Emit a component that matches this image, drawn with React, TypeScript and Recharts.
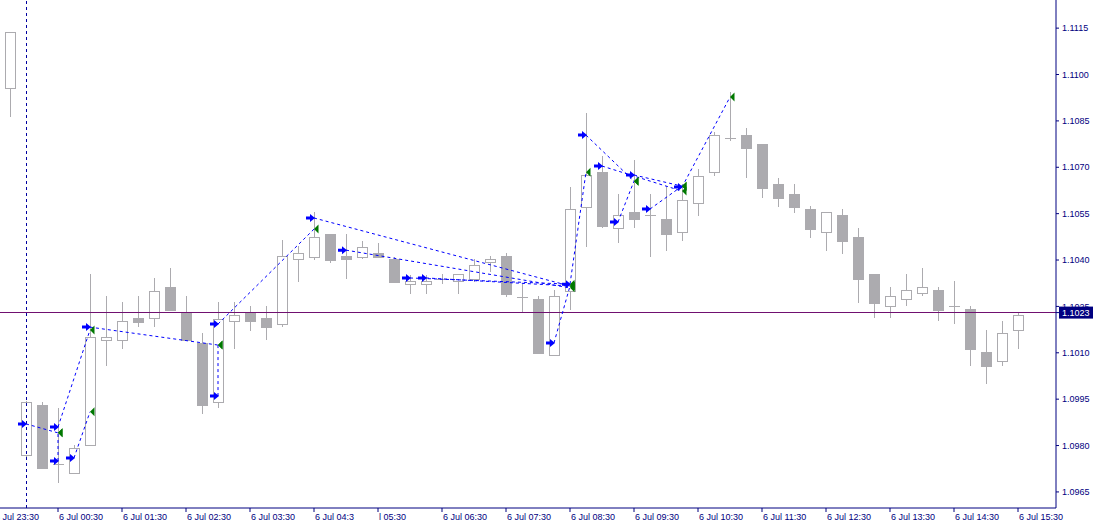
import { Bar, ComposedChart, ReferenceDot, ReferenceLine, XAxis, YAxis } from 'recharts';

// 15 minute bars, first slot is the (empty) 23:30 column used by the first time label
const times = [
  '23:30', '23:45',
  '00:00', '00:15', '00:30', '00:45', '01:00', '01:15', '01:30', '01:45',
  '02:00', '02:15', '02:30', '02:45', '03:00', '03:15', '03:30', '03:45',
  '04:00', '04:15', '04:30', '04:45', '05:00', '05:15', '05:30', '05:45',
  '06:00', '06:15', '06:30', '06:45', '07:00', '07:15', '07:30', '07:45',
  '08:00', '08:15', '08:30', '08:45', '09:00', '09:15', '09:30', '09:45',
  '10:00', '10:15', '10:30', '10:45', '11:00', '11:15', '11:30', '11:45',
  '12:00', '12:15', '12:30', '12:45', '13:00', '13:15', '13:30', '13:45',
  '14:00', '14:15', '14:30', '14:45', '15:00', '15:15', '15:30',
];

// OHLC for 23:45 .. 15:30
const opens = [
  1.10956, 1.0977, 1.09931, 1.09741, 1.09711, 1.09802, 1.10141, 1.10141, 1.10212, 1.10212,
  1.10313, 1.10232, 1.10132, 1.09941, 1.10203, 1.10232, 1.10212, 1.10193, 1.10403, 1.1041,
  1.10484, 1.10413, 1.1041, 1.10423, 1.10403, 1.10322, 1.10322, 1.10339, 1.10332, 1.10339,
  1.10394, 1.10413, 1.10281, 1.10274, 1.10093, 1.103, 1.10571, 1.10684, 1.10503, 1.10555,
  1.10546, 1.10533, 1.1049, 1.10584, 1.10684, 1.10795, 1.10804, 1.10775, 1.10646, 1.10613,
  1.10565, 1.1049, 1.10545, 1.10474, 1.10355, 1.10251, 1.10274, 1.10293, 1.10303, 1.10252,
  1.10242, 1.10103, 1.10073, 1.10174,
];
const highs = [
  1.11137, 1.09944, 1.09941, 1.09921, 1.09802, 1.10355, 1.10284, 1.10264, 1.10284, 1.10342,
  1.10374, 1.10284, 1.10164, 1.10264, 1.10264, 1.10251, 1.10251, 1.10465, 1.10445, 1.10555,
  1.10484, 1.10484, 1.10461, 1.10455, 1.1041, 1.10351, 1.10351, 1.10355, 1.10355, 1.10403,
  1.10413, 1.10423, 1.10322, 1.10284, 1.10303, 1.10636, 1.10875, 1.10736, 1.10613, 1.10723,
  1.10613, 1.10639, 1.10646, 1.10694, 1.10814, 1.10943, 1.10827, 1.10775, 1.10665, 1.10646,
  1.10574, 1.10555, 1.10565, 1.10503, 1.10355, 1.10313, 1.10355, 1.10374, 1.10313, 1.10332,
  1.10251, 1.10174, 1.10203, 1.10232,
];
const lows = [
  1.10862, 1.09763, 1.09727, 1.09679, 1.09711, 1.09802, 1.10057, 1.10112, 1.10183, 1.10183,
  1.10238, 1.10141, 1.09902, 1.09921, 1.10112, 1.1017, 1.10141, 1.10183, 1.10329, 1.104,
  1.1039, 1.10339, 1.10403, 1.1041, 1.10329, 1.1029, 1.1029, 1.10322, 1.1029, 1.10329,
  1.10361, 1.1028, 1.10229, 1.10099, 1.1009, 1.10238, 1.10442, 1.10503, 1.10455, 1.10503,
  1.1041, 1.10429, 1.10461, 1.10542, 1.10672, 1.10785, 1.10665, 1.106, 1.10571, 1.10552,
  1.10471, 1.10429, 1.10419, 1.10261, 1.10212, 1.10212, 1.10251, 1.10284, 1.10203, 1.10193,
  1.10057, 1.09999, 1.10057, 1.10112,
];
const closes = [
  1.11137, 1.09941, 1.09727, 1.09739, 1.09792, 1.10151, 1.10151, 1.10203, 1.102, 1.103,
  1.10238, 1.10141, 1.09931, 1.10209, 1.10222, 1.10203, 1.10183, 1.10413, 1.10423, 1.10474,
  1.104, 1.10403, 1.10442, 1.1041, 1.10329, 1.10332, 1.10332, 1.10338, 1.10355, 1.10384,
  1.10403, 1.1029, 1.1028, 1.10099, 1.10284, 1.10565, 1.10675, 1.1051, 1.10545, 1.10533,
  1.10545, 1.10484, 1.10594, 1.10672, 1.10804, 1.10794, 1.10762, 1.10633, 1.106, 1.10571,
  1.105, 1.10555, 1.10461, 1.10339, 1.10261, 1.10284, 1.10303, 1.10313, 1.10238, 1.10251,
  1.10112, 1.10057, 1.10164, 1.10222,
];

const tickTimes = [
  '23:30', '00:30', '01:30', '02:30', '03:30', '04:30', '05:30', '06:30', '07:30',
  '08:30', '09:30', '10:30', '11:30', '12:30', '13:30', '14:30', '15:30',
];
const tickLabels = [
  '3 Jul 23:30', '6 Jul 00:30', '6 Jul 01:30', '6 Jul 02:30', '6 Jul 03:30', '6 Jul 04:3',
  'l 05:30', '6 Jul 06:30', '6 Jul 07:30', '6 Jul 08:30', '6 Jul 09:30', '6 Jul 10:30',
  '6 Jul 11:30', '6 Jul 12:30', '6 Jul 13:30', '6 Jul 14:30', '6 Jul 15:30',
];

const priceTicks = [
  1.0965, 1.098, 1.0995, 1.101, 1.1025, 1.104, 1.1055, 1.107, 1.1085, 1.11, 1.1115,
];
const bidPrice = 1.1023;

// trade history: open arrow -> close marker
const tradeOpenTime = [
  '00:00', '00:30', '00:30', '00:45', '01:00', '03:00', '03:00', '04:30', '05:00', '06:00',
  '06:15', '08:15', '08:30', '08:45', '09:00', '09:15', '09:30', '09:45', '10:15',
];
const tradeOpenPrice = [
  1.0987, 1.0975, 1.0986, 1.0976, 1.10183, 1.0996, 1.10193, 1.10536, 1.10432, 1.10342,
  1.10342, 1.10132, 1.10322, 1.10804, 1.10704, 1.10523, 1.10675, 1.10565, 1.10636,
];
const tradeCloseTime = [
  '00:30', '00:30', '01:00', '01:00', '03:00', '03:00', '04:30', '08:30', '08:30', '08:30',
  '08:30', '08:30', '08:45', '09:30', '10:15', '09:30', '10:15', '10:15', '11:00',
];
const tradeClosePrice = [
  1.09841, 1.09841, 1.10174, 1.09909, 1.10125, 1.10125, 1.105, 1.10316, 1.1031, 1.10322,
  1.10316, 1.10316, 1.10684, 1.10655, 1.10623, 1.10655, 1.10639, 1.10639, 1.10927,
];

const NAVY = '#000080';
const CANDLE = '#acabaf';
const FONT = "'Liberation Sans', Arial, sans-serif";

const rows = times.map((time, i) => {
  const k = i - 1;
  if (k < 0) return { time, open: null, high: null, low: null, close: null };
  return { time, open: opens[k], high: highs[k], low: lows[k], close: closes[k] };
});

function Candle(props: any) {
  const { x, y, width, height, payload } = props;
  if (payload == null || payload.high == null) return null;
  const top = Math.min(y, y + height);
  const h = Math.abs(height);
  const span = payload.high - payload.low;
  const py = (v: number) => (span === 0 ? top : top + ((payload.high - v) / span) * h);
  const cx = Math.round(x + width / 2);
  const yo = Math.round(py(payload.open));
  const yc = Math.round(py(payload.close));
  const bull = payload.close >= payload.open;
  const bodyTop = Math.min(yo, yc);
  const bodyH = Math.abs(yo - yc);
  return (
    <g shapeRendering="crispEdges">
      <line x1={cx + 0.5} x2={cx + 0.5} y1={Math.round(top)} y2={Math.round(top + h)} stroke={CANDLE} />
      {bodyH < 1 ? (
        <line x1={cx - 5} x2={cx + 6} y1={yo + 0.5} y2={yo + 0.5} stroke={CANDLE} />
      ) : (
        <rect
          x={cx - 4.5}
          y={bodyTop + 0.5}
          width={10}
          height={bodyH}
          fill={bull ? '#ffffff' : CANDLE}
          stroke={CANDLE}
        />
      )}
    </g>
  );
}

const OpenArrow = (props: any) => {
  const { cx, cy } = props;
  return (
    <path
      d={`M${cx - 8},${cy - 1.5} H${cx - 4} V${cy - 4} L${cx + 1},${cy} L${cx - 4},${cy + 4} V${cy + 1.5} H${cx - 8} Z`}
      fill="#0000ff"
    />
  );
};

const CloseMark = (props: any) => {
  const { cx, cy } = props;
  return <path d={`M${cx},${cy} L${cx + 4.5},${cy - 4.5} L${cx + 4.5},${cy + 4.5} Z`} fill="#007800" />;
};

const TimeTick = (props: any) => {
  const { x, y, payload } = props;
  const label = tickLabels[tickTimes.indexOf(payload.value)];
  return (
    <text x={x + 1} y={y} dy="0.71em" textAnchor="start" fill={NAVY} fontSize={9} fontFamily={FONT}>
      {label}
    </text>
  );
};

const PriceTick = (props: any) => {
  const { x, y, payload } = props;
  const v = payload.value;
  if (v === bidPrice) {
    return (
      <g>
        <rect x={x - 3} y={y - 6} width={34} height={12} fill={NAVY} />
        <text x={x} y={y} dy="0.355em" textAnchor="start" fill="#ffffff" fontSize={9} fontFamily={FONT}>
          {v.toFixed(4)}
        </text>
      </g>
    );
  }
  return (
    <text x={x} y={y} dy="0.355em" textAnchor="start" fill={NAVY} fontSize={9} fontFamily={FONT}>
      {v.toFixed(4)}
    </text>
  );
};

export default function App() {
  return (
    <div style={{ position: 'absolute', left: -14, top: 0, background: '#ffffff' }}>
      <ComposedChart
        width={1110}
        height={526}
        data={rows}
        margin={{ top: 0, right: 0, bottom: 0, left: 0 }}
      >
        <XAxis
          dataKey="time"
          type="category"
          ticks={tickTimes}
          interval={0}
          tick={<TimeTick />}
          tickSize={4}
          tickMargin={2}
          height={18}
          padding={{ left: 0, right: 30 }}
          axisLine={{ stroke: NAVY }}
          tickLine={{ stroke: NAVY }}
        />
        <YAxis
          orientation="right"
          type="number"
          width={40}
          domain={[1.09598, 1.11241]}
          allowDataOverflow
          ticks={[...priceTicks, bidPrice]}
          interval={0}
          tick={<PriceTick />}
          tickSize={3}
          tickMargin={3}
          axisLine={{ stroke: NAVY }}
          tickLine={{ stroke: NAVY }}
        />
        <ReferenceLine x="00:00" stroke="#0000a0" strokeDasharray="3 3" shapeRendering="crispEdges" />
        <ReferenceLine y={bidPrice} stroke="#701070" shapeRendering="crispEdges" />
        <Bar
          dataKey={(d: any) => (d.high == null ? null : [d.low, d.high])}
          barSize={10}
          shape={<Candle />}
          isAnimationActive={false}
        />
        {tradeOpenTime.map((t, i) => (
          <ReferenceLine
            key={`tl${i}`}
            segment={[
              { x: t, y: tradeOpenPrice[i] },
              { x: tradeCloseTime[i], y: tradeClosePrice[i] },
            ]}
            stroke="#0000ff"
            strokeDasharray="3 3"
          />
        ))}
        {tradeOpenTime.map((t, i) => (
          <ReferenceDot key={`to${i}`} x={t} y={tradeOpenPrice[i]} r={4} shape={<OpenArrow />} />
        ))}
        {tradeCloseTime.map((t, i) => (
          <ReferenceDot key={`tc${i}`} x={t} y={tradeClosePrice[i]} r={4} shape={<CloseMark />} />
        ))}
      </ComposedChart>
    </div>
  );
}
